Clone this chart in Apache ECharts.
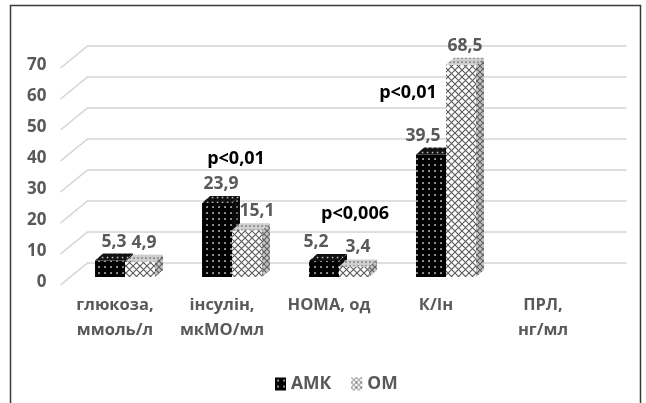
<!DOCTYPE html>
<html>
<head>
<meta charset="utf-8">
<script src="https://cdn.jsdelivr.net/npm/echarts@6/dist/echarts.min.js"></script>
<style>
  html, body { margin: 0; padding: 0; background: #fff; }
  #chart { width: 646px; height: 403px; }
</style>
</head>
<body>
<div id="chart"></div>
<script>
// ---- data ----
const categories = ['глюкоза,\nммоль/л', 'інсулін,\nмкМО/мл', 'НОМА, од', 'К/Ін', 'ПРЛ,\nнг/мл'];
const seriesNames = ['АМК', 'ОМ'];
const amkValues = [5.3, 23.9, 5.2, 39.5, null];
const omValues = [4.9, 15.1, 3.4, 68.5, null];
const yTicks = [0, 10, 20, 30, 40, 50, 60, 70];
const pTexts = ['p<0,01', 'p<0,006', 'p<0,01'];
const pCategory = [1, 2, 3];

// ---- look ----
const FONT = '"Open Sans", "Noto Sans", sans-serif';
const GRAY_TEXT = '#595959';
const DX = 8, DY = 7;              // bar depth skew
const BAR_FRACTION = 0.28;         // bar width / category band
// placement of the significance notes: [pixel shift from category centre, axis level]
const pPlacement = [[4, 38], [16, 20.3], [-38, 59.4]];
// small horizontal nudges for a few value labels (series index -> category -> px)
const labelNudge = { 0: { 2: -12, 3: -12 }, 1: { 1: 6 } };

function makeCanvas(w, h, draw) {
  const c = document.createElement('canvas');
  c.width = w; c.height = h;
  draw(c.getContext('2d'), w, h);
  return c;
}
function dots(bg, dot, step) {
  return makeCanvas(step, step, (g, w, h) => {
    g.fillStyle = bg; g.fillRect(0, 0, w, h);
    g.fillStyle = dot; g.fillRect(w / 2 - 0.75, h / 2 - 0.75, 1.6, 1.6);
  });
}
function hatch(bg, line, step, lw) {
  return makeCanvas(step, step, (g, w, h) => {
    if (bg) { g.fillStyle = bg; g.fillRect(0, 0, w, h); }
    g.strokeStyle = line; g.lineWidth = lw;
    g.beginPath();
    g.moveTo(-1, -1); g.lineTo(w + 1, h + 1);
    g.moveTo(w + 1, -1); g.lineTo(-1, h + 1);
    g.stroke();
  });
}
const pat = (c) => ({ image: c, repeat: 'repeat' });

const faces = [
  { front: pat(dots('#000', '#d8d8d8', 6)), top: pat(dots('#111', '#bdbdbd', 5)), side: pat(dots('#0a0a0a', '#9a9a9a', 6)) },
  { front: pat(hatch('#fff', '#5a5a5a', 7, 1.1)), top: pat(dots('#cfcfcf', '#7a7a7a', 4)), side: pat(hatch('#c4c4c4', '#5e5e5e', 6, 1.1)) }
];

const fmt = (v) => String(v).replace('.', ',');

function barSeries(k, values) {
  const f = faces[k];
  return {
    type: 'custom',
    name: seriesNames[k],
    coordinateSystem: 'cartesian2d',
    z: 3 + k,
    silent: true,
    itemStyle: { color: f.front },
    data: values.map((v, i) => [i, v == null ? NaN : v]),
    renderItem(params, api) {
      const v = api.value(1);
      if (!isFinite(v)) return null;
      const cat = api.value(0);
      const band = api.size([1, 0])[0];
      const w = band * BAR_FRACTION;
      const base = api.coord([cat, 0]);
      const top = api.coord([cat, v]);
      const xl = base[0] + (k === 0 ? -w : 0);
      const xr = xl + w;
      const yb = base[1], yt = top[1];
      const nudge = (labelNudge[k] && labelNudge[k][cat]) || 0;
      return {
        type: 'group',
        children: [
          { type: 'polygon', shape: { points: [[xr, yt], [xr + DX, yt - DY], [xr + DX, yb - DY], [xr, yb]] }, style: { fill: f.side } },
          { type: 'rect', shape: { x: xl, y: yt, width: w, height: yb - yt }, style: { fill: f.front } },
          { type: 'polygon', shape: { points: [[xl, yt], [xl + DX, yt - DY], [xr + DX, yt - DY], [xr, yt]] }, style: { fill: f.top } },
          { type: 'text', style: { text: fmt(v), x: (xl + xr) / 2 + DX / 2 + nudge, y: yt - 19, align: 'center', verticalAlign: 'middle', fill: GRAY_TEXT, font: 'bold 17.5px ' + FONT } }
        ]
      };
    }
  };
}

// back-wall gridlines with their slanted front edge, plus the value labels at the front edge
const gridSeries = {
  type: 'custom',
  name: 'grid',
  coordinateSystem: 'cartesian2d',
  z: 1,
  silent: true,
  data: yTicks.map(v => [0, v]),
  renderItem(params, api) {
    const v = api.value(1);
    const y = api.coord([0, v])[1];
    const cs = params.coordSys;
    return {
      type: 'group',
      children: [
        {
          type: 'polyline',
          shape: { points: [[cs.x - 11, y + 8], [cs.x + 16, y - 14], [cs.x + cs.width + 20, y - 14]] },
          style: { stroke: '#d6d3d3', lineWidth: 1.5, fill: null }
        },
        {
          type: 'text',
          style: { text: String(v), x: cs.x - 25, y: y + 5, align: 'right', verticalAlign: 'middle', fill: GRAY_TEXT, font: 'bold 17px ' + FONT }
        }
      ]
    };
  }
};

const noteSeries = {
  type: 'custom',
  name: 'notes',
  coordinateSystem: 'cartesian2d',
  z: 6,
  silent: true,
  data: pCategory.map((c, i) => [c, pPlacement[i][1], i]),
  renderItem(params, api) {
    const i = api.value(2);
    const p = api.coord([api.value(0), api.value(1)]);
    return {
      type: 'text',
      style: { text: pTexts[i], x: p[0] + pPlacement[i][0], y: p[1], align: 'center', verticalAlign: 'middle', fill: '#000', font: 'bold 18px ' + FONT }
    };
  }
};

const chart = echarts.init(document.getElementById('chart'), null, { renderer: 'canvas' });
chart.setOption({
  animation: false,
  backgroundColor: '#fff',
  textStyle: { fontFamily: FONT },
  grid: { left: 71.5, right: 39.5, top: 60, bottom: 126, containLabel: false },
  xAxis: {
    type: 'category',
    data: categories,
    axisLine: { show: false },
    axisTick: { show: false },
    splitLine: { show: false },
    axisLabel: { color: GRAY_TEXT, fontWeight: 'bold', fontSize: 16.5, lineHeight: 25, margin: 16, padding: [0, 20, 0, 0], interval: 0 }
  },
  yAxis: {
    type: 'value',
    min: 0, max: 70, interval: 10,
    axisLine: { show: false },
    axisTick: { show: false },
    splitLine: { show: false },
    axisLabel: { show: false }
  },
  legend: {
    top: 370,
    left: 270,
    itemWidth: 11,
    itemHeight: 13,
    itemGap: 20,
    textStyle: { color: GRAY_TEXT, fontWeight: 'bold', fontSize: 17.5, fontFamily: FONT },
    data: [
      { name: seriesNames[0], icon: 'rect', itemStyle: { color: faces[0].front } },
      { name: seriesNames[1], icon: 'rect', itemStyle: { color: pat(hatch(null, '#666', 5, 1)) } }
    ]
  },
  graphic: [{
    type: 'rect', silent: true, z: 10,
    shape: { x: 10.5, y: 5.5, width: 630, height: 410 },
    style: { fill: null, stroke: '#3a3a3a', lineWidth: 1.5 }
  }],
  series: [gridSeries, barSeries(0, amkValues), barSeries(1, omValues), noteSeries]
});
</script>
</body>
</html>
